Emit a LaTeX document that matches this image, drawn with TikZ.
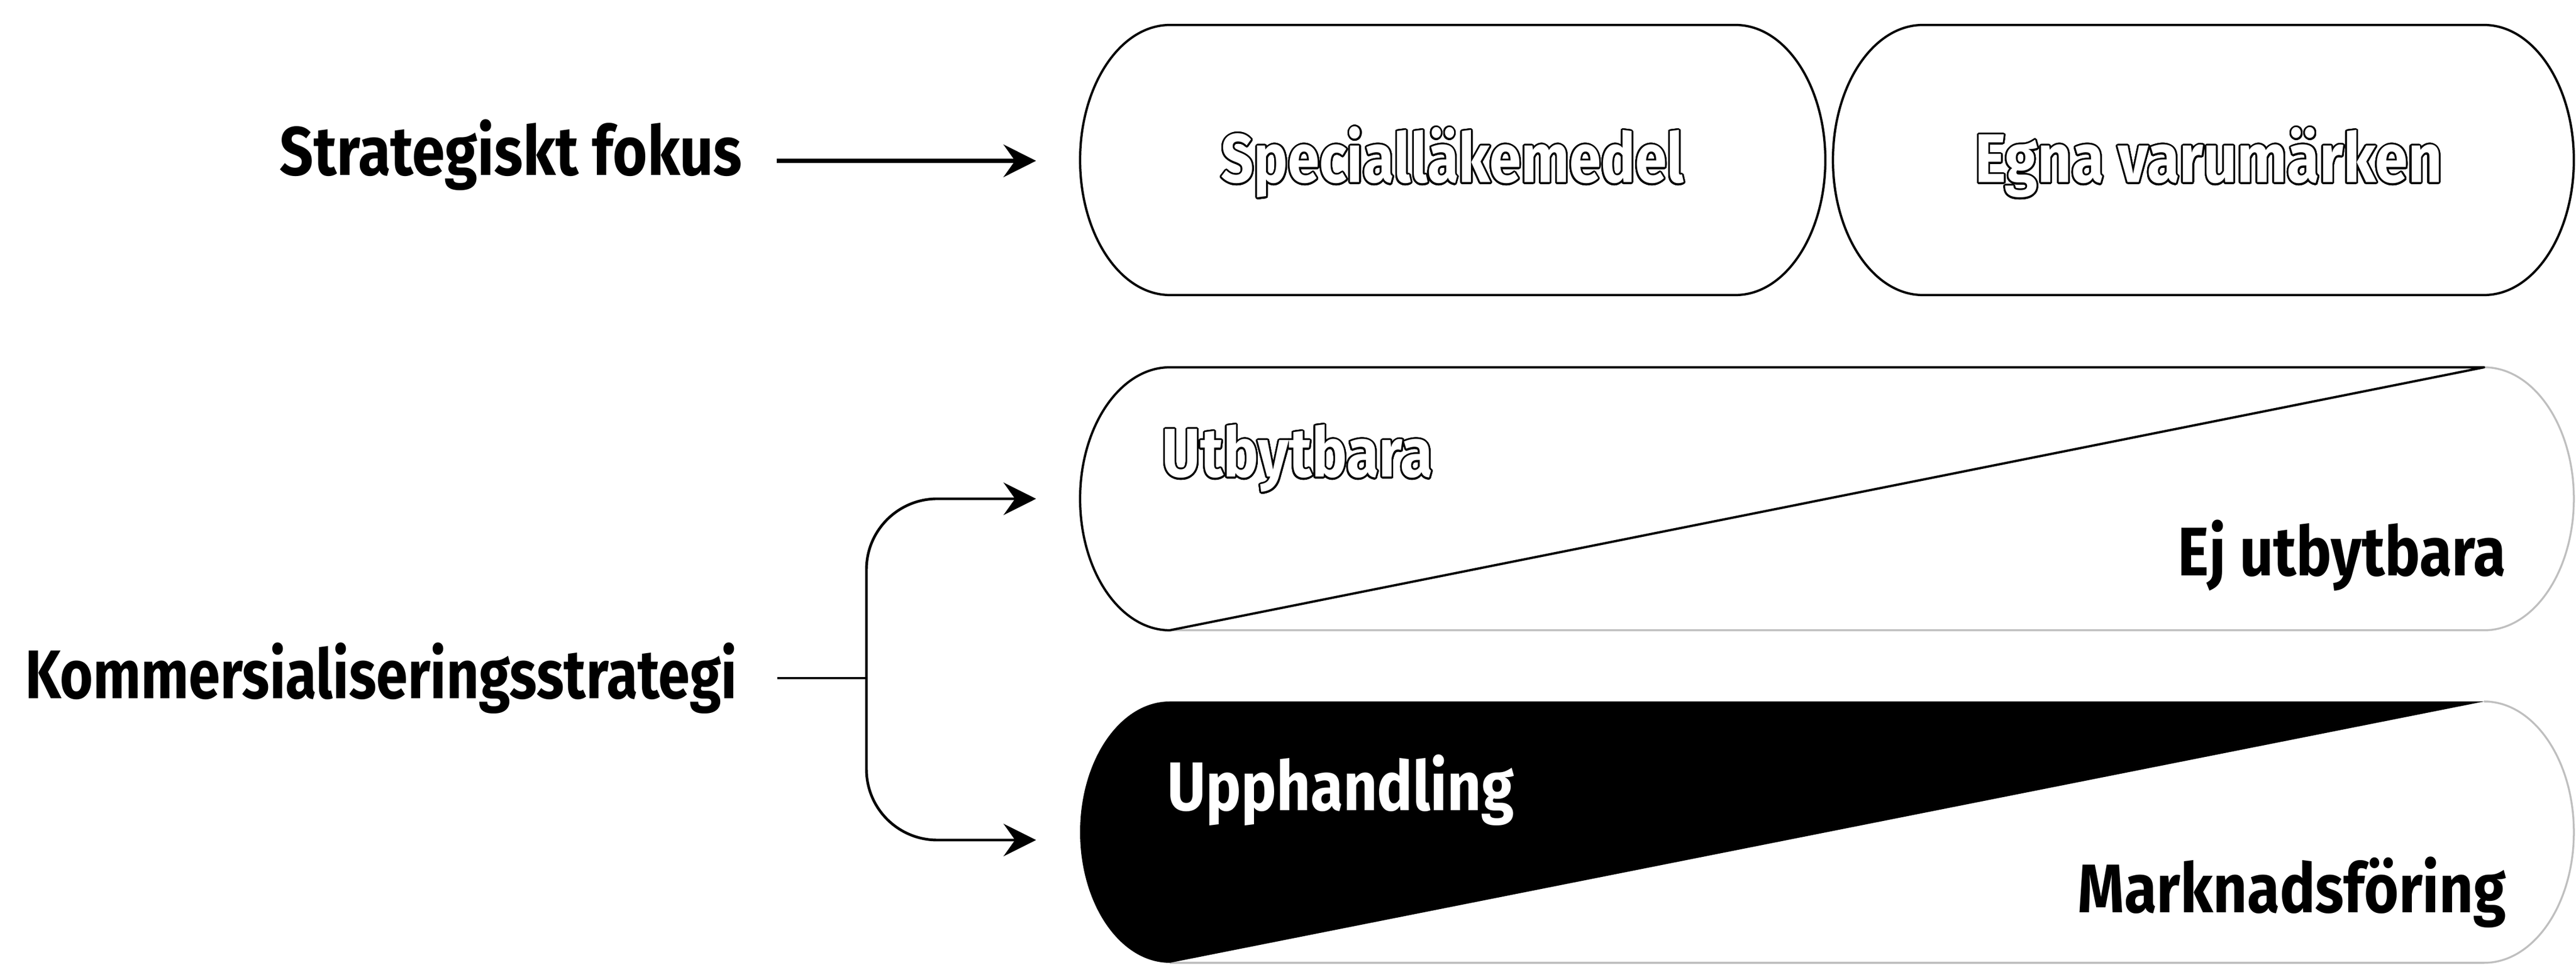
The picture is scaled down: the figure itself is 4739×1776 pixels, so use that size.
\documentclass[tikz,border=0pt]{standalone}
\usepackage{fontspec}
\setmainfont{Fira Sans}[FakeStretch=0.86]
\usepackage{graphicx}
\usepackage[copies]{contour}
\contourlength{0.9pt}
\contournumber{32}
\usetikzlibrary{arrows.meta}
\begin{document}
\begin{tikzpicture}[x=0.01cm,y=0.01cm,
  pillline/.style={line width=1.2pt,line join=round},
  faintline/.style={line width=1pt,black!25},
  lbl/.style={font=\fontsize{36}{40}\selectfont\bfseries,inner sep=0pt},
  arr/.style={line width=2.2pt,-{Stealth[length=17pt,width=17pt,inset=6pt]}},
  brk/.style={line width=1.4pt,-{Stealth[length=17pt,width=17pt,inset=6pt]}},
  brkline/.style={line width=1.4pt},
]
\useasboundingbox (0,0) rectangle (4739,1776);

% top pills
\draw[pillline] (2152,1730) -- (3193,1730)
  arc[start angle=90,end angle=-90,x radius=165,y radius=248.5]
  -- (2152,1233)
  arc[start angle=270,end angle=90,x radius=165,y radius=248.5] -- cycle;
\draw[pillline] (3537,1730) -- (4570,1730)
  arc[start angle=90,end angle=-90,x radius=165,y radius=248.5]
  -- (3537,1233)
  arc[start angle=270,end angle=90,x radius=165,y radius=248.5] -- cycle;

% middle pill
\draw[faintline] (4570,1100)
  arc[start angle=90,end angle=-90,x radius=165,y radius=242] -- (2152,616);
\draw[pillline] (4570,1100) -- (2152,1100)
  arc[start angle=90,end angle=270,x radius=165,y radius=242] -- cycle;

% bottom pill
\draw[faintline] (4570,485)
  arc[start angle=90,end angle=-90,x radius=165,y radius=240.5] -- (2152,4);
\fill[black] (4570,485) -- (2152,485)
  arc[start angle=90,end angle=270,x radius=165,y radius=240.5] -- cycle;

% labels
\node[lbl,anchor=base east] (sf) at (1366,1453) {Strategiskt fokus};
\node[lbl,anchor=base east] (ks) at (1357,490) {\resizebox{13.09cm}{\height}{Kommersialiseringsstrategi}};
\node[lbl,anchor=base,text=white] (spec) at (2672,1440) {\resizebox{8.5cm}{\height}{\contour{black}{Specialläkemedel}}};
\node[lbl,anchor=base,text=white] (egna) at (4063,1440) {\contour{black}{Egna varumärken}};
\node[lbl,anchor=base west,text=white] (utb) at (2137,898) {\contour{black}{Utbytbara}};
\node[lbl,anchor=base east] (ej) at (4611,716) {Ej utbytbara};
\node[lbl,anchor=base west,text=white] (upp) at (2147,284) {Upphandling};
\node[lbl,anchor=base east] (mark) at (4611,96) {Marknadsföring};

% connectors
\coordinate (sfin) at (1906,1480);
\draw[arr,shorten <=0.63cm] (sf.east |- sfin) -- (sfin);
\coordinate (br) at (1594,528);
\coordinate (utin) at (1906,858);
\coordinate (upin) at (1906,230);
\draw[brkline,shorten <=0.73cm] (ks.east |- br) -- (br);
\draw[brk,rounded corners=1.3cm] (br) |- (utin);
\draw[brk,rounded corners=1.3cm] (br) |- (upin);
\end{tikzpicture}
\end{document}
